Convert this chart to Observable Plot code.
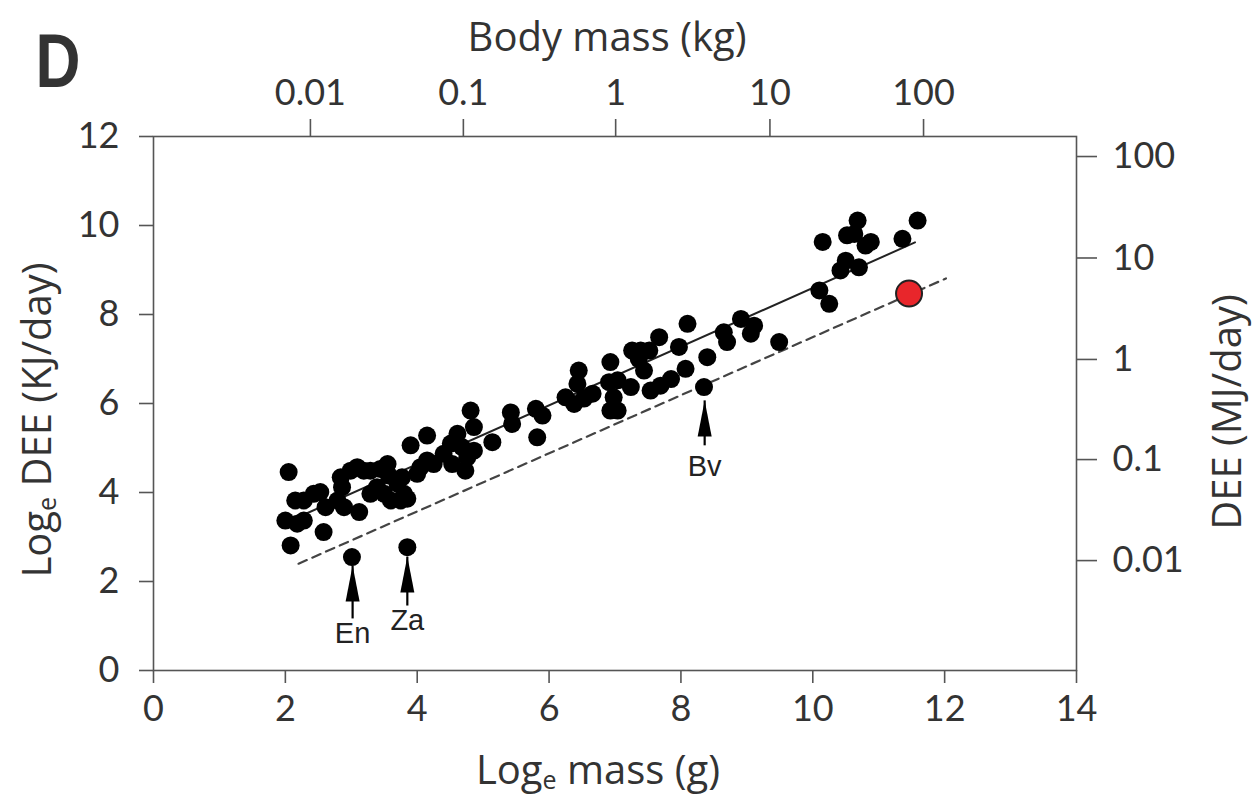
<!DOCTYPE html>
<html><head><meta charset="utf-8">
<script src="https://cdn.jsdelivr.net/npm/d3@7"></script>
<script src="https://cdn.jsdelivr.net/npm/@observablehq/plot@0.6"></script>
<style>body{margin:0;background:#fff}</style>
</head><body><div id="chart"></div>
<script>
// ---- data ----
const massLn = [2.05,2.15,2.28,2.43,2.53,2.00,2.18,2.28,2.08,2.58,2.61,2.79,2.86,2.84,2.99,3.09,3.19,2.89,3.12,3.29,3.44,3.55,3.57,3.39,3.29,3.50,3.60,3.75,3.80,3.85,3.77,3.70,3.90,4.15,4.05,4.15,4.25,4.00,4.40,4.51,4.61,4.68,4.76,4.53,4.73,4.81,3.01,3.85,
  4.86,4.86,5.14,5.42,5.44,5.80,5.90,5.82,6.25,6.38,6.45,6.43,6.53,6.66,6.93,6.91,6.98,6.93,7.04,7.24,7.26,7.36,
  7.04,7.39,7.52,7.44,7.67,7.97,8.10,7.54,7.69,7.85,8.07,8.40,8.35,8.65,8.70,8.91,9.06,9.11,
  9.49,10.15,10.10,10.25,10.42,10.50,10.70,10.52,10.63,10.68,10.80,10.88,11.36,11.59];
const deeLn = [4.46,3.82,3.82,3.97,4.01,3.37,3.30,3.37,2.81,3.11,3.67,3.82,4.12,4.34,4.49,4.57,4.49,3.67,3.56,4.49,4.53,4.64,4.38,4.12,3.97,3.97,3.82,3.82,3.97,3.86,4.34,4.20,5.06,5.28,4.57,4.72,4.64,4.42,4.87,5.10,5.32,5.02,4.79,4.64,4.49,5.84,2.55,2.77,
  5.47,4.94,5.13,5.80,5.54,5.88,5.73,5.24,6.14,5.99,6.74,6.44,6.11,6.22,6.93,6.48,6.14,5.84,5.84,6.37,7.19,7.00,
  6.52,7.19,7.19,6.74,7.49,7.27,7.79,6.29,6.40,6.55,6.78,7.04,6.37,7.60,7.38,7.90,7.57,7.75,
  7.38,9.63,8.54,8.24,8.99,9.21,9.06,9.78,9.81,10.11,9.55,9.63,9.70,10.11];
const highlightMass = [11.46];
const highlightDee = [8.47];

const solidX = [2.2, 11.55];
const solidY = [3.45, 9.62];
const dashX = [2.2, 12.02];
const dashY = [2.40, 8.81];

const arrowLabels = ["En", "Za", "Bv"];
const arrowX = [3.02, 3.85, 8.36];
const arrowTip = [2.36, 2.56, 6.07];
const arrowTail = [1.17, 1.46, 5.06];
const arrowTextY = [0.83, 1.12, 4.58];

const bottomTicks = [0, 2, 4, 6, 8, 10, 12, 14];
const leftTicks = [0, 2, 4, 6, 8, 10, 12];
const topTickPos = [2.38, 4.70, 7.01, 9.35, 11.68];
const topTickLabels = ["0.01", "0.1", "1", "10", "100"];
const rightTickPos = [11.55, 9.27, 6.99, 4.74, 2.47];
const rightTickLabels = ["100", "10", "1", "0.1", "0.01"];

// ---- tables ----
const points = massLn.map((m, i) => ({x: m, y: deeLn[i]}));
const red = highlightMass.map((m, i) => ({x: m, y: highlightDee[i]}));
const solid = solidX.map((x, i) => ({x, y: solidY[i]}));
const dashed = dashX.map((x, i) => ({x, y: dashY[i]}));
const arrows = arrowLabels.map((t, i) => ({t, x: arrowX[i], tip: arrowTip[i], tail: arrowTail[i], ty: arrowTextY[i]}));
const topMap = new Map(topTickPos.map((p, i) => [p, topTickLabels[i]]));
const rightMap = new Map(rightTickPos.map((p, i) => [p, rightTickLabels[i]]));

const FONT = "Lato, 'Open Sans', sans-serif";
const TFONT = "'Open Sans', Lato, sans-serif";
const AX = "#555";

const svg = Plot.plot({
  width: 1256,
  height: 805,
  marginTop: 136,
  marginBottom: 135,
  marginLeft: 153,
  marginRight: 180,
  style: {fontFamily: FONT, fontSize: "36px", color: "#333", background: "white", overflow: "visible"},
  x: {domain: [0, 14]},
  y: {domain: [0, 12]},
  marks: [
    Plot.frame({stroke: AX, strokeWidth: 1.6}),
    Plot.axisX(bottomTicks, {anchor: "bottom", tickSize: 13, tickPadding: 12, stroke: AX, strokeWidth: 1.6, label: null, tickFormat: d => String(d)}),
    Plot.axisX(topTickPos, {anchor: "top", tickSize: 18, tickPadding: 14, stroke: AX, strokeWidth: 1.6, label: null, tickFormat: d => topMap.get(d)}),
    Plot.axisY(leftTicks, {anchor: "left", tickSize: 14, tickPadding: 20, stroke: AX, strokeWidth: 1.6, label: null, tickFormat: d => String(d)}),
    Plot.axisY(rightTickPos, {anchor: "right", tickSize: 20, tickPadding: 16, stroke: AX, strokeWidth: 1.6, label: null, tickFormat: d => rightMap.get(d)}),
    Plot.line(dashed, {x: "x", y: "y", stroke: "#444", strokeWidth: 2.2, strokeDasharray: "9,6"}),
    Plot.line(solid, {x: "x", y: "y", stroke: "#222", strokeWidth: 2}),
    Plot.dot(points, {x: "x", y: "y", r: 9, fill: "black"}),
    Plot.dot(red, {x: "x", y: "y", r: 13, fill: "#e8262b", stroke: "#222", strokeWidth: 2}),
    Plot.link(arrows, {x1: "x", x2: "x", y1: "tail", y2: "tip", stroke: "black", strokeWidth: 2.2}),
    Plot.vector(arrows, {x: "x", y: "tip", length: 36, r: 7, rotate: 0, shape: "spike", anchor: "end", fill: "black", stroke: "none"}),
    Plot.text(arrows, {x: "x", y: "ty", text: "t", fontFamily: "'Liberation Sans', Arial, sans-serif", fontSize: 29, fill: "#222"})
  ]
});

const s = d3.select(svg);
function addTitle(x, y, rot, parts, size, weight, family) {
  const t = s.append("text")
    .attr("transform", `translate(${x},${y}) rotate(${rot})`)
    .attr("text-anchor", "middle")
    .attr("dominant-baseline", "middle")
    .attr("fill", "#333")
    .style("font-family", family || TFONT)
    .style("font-size", size + "px")
    .style("font-weight", weight || "normal");
  for (const p of parts) {
    const ts = t.append("tspan").text(p.text);
    if (p.sub) ts.attr("dy", 9).style("font-size", Math.round(size * 0.62) + "px");
    if (p.after) ts.attr("dy", -9);
  }
}
addTitle(607, 40, 0, [{text: "Body mass (kg)"}], 40);
addTitle(598, 773, 0, [{text: "Log"}, {text: "e", sub: true}, {text: " mass (g)", after: true}], 40);
addTitle(40, 420, -90, [{text: "Log"}, {text: "e", sub: true}, {text: " DEE (KJ/day)", after: true}], 40);
addTitle(1230, 412, -90, [{text: "DEE (MJ/day)"}], 40);
s.append("text").attr("transform", "translate(58,87) scale(0.82,1)").text("D")
  .attr("fill", "#333")
  .style("font-family", "'Liberation Sans', Arial, sans-serif")
  .style("font-size", "76px").style("font-weight", "bold");

document.getElementById("chart").appendChild(svg);
</script>
</body></html>
